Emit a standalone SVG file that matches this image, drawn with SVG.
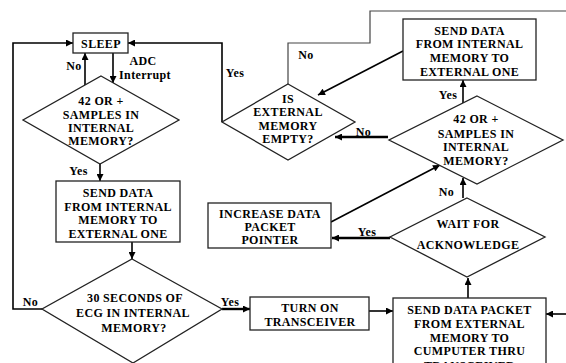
<svg xmlns="http://www.w3.org/2000/svg" width="566" height="363" viewBox="0 0 566 363">
<defs>
<marker id="ah" viewBox="0 0 10 10" refX="10" refY="5" markerWidth="8" markerHeight="7" markerUnits="userSpaceOnUse" orient="auto">
<path d="M0,0 L10,5 L0,10 z" fill="#000"/>
</marker>
</defs>
<style>
.shape{fill:#fff;stroke:#222;stroke-width:1.3}
.t{font-family:'Liberation Serif','DejaVu Serif',serif;font-weight:bold;font-size:12px;letter-spacing:0.35px;fill:#000;text-anchor:middle}
.c{fill:none;stroke:#000;stroke-width:1.6}
.thick{stroke-width:2.4}
.thin{stroke:#444;stroke-width:1.2}
.a{marker-end:url(#ah)}
</style>
<rect width="566" height="363" fill="#fff"/>

<g id="connectors">
<polyline class="c a" points="42,309 13,309 13,43 73,43"/>
<line class="c a" x1="85" y1="85" x2="85" y2="53"/>
<line class="c a" x1="113" y1="53" x2="113" y2="83"/>
<line class="c a" x1="100" y1="164" x2="100" y2="181"/>
<line class="c a" x1="132" y1="242" x2="132" y2="259"/>
<line class="c thick a" x1="222" y1="309" x2="250" y2="309"/>
<line class="c a" x1="369" y1="311" x2="393" y2="311"/>
<line class="c a" x1="566" y1="314" x2="546" y2="314"/>
<line class="c a" x1="468" y1="298" x2="468" y2="278"/>
<line class="c thick a" x1="390" y1="238" x2="332" y2="238"/>
<line class="c a" x1="331" y1="222" x2="440" y2="165"/>
<line class="c a" x1="463" y1="198" x2="463" y2="178"/>
<line class="c a" x1="463" y1="103" x2="463" y2="80"/>
<line class="c a" x1="403" y1="51" x2="318" y2="95"/>
<polyline class="c thin" points="566,11 370,11 370,43 288,43 288,84"/>
<polyline class="c a" points="222,122 222,43 128,43"/>
<line class="c thick a" x1="388" y1="137" x2="335" y2="137"/>
</g>

<g id="sleep">
<rect class="shape" x="73" y="33" width="55" height="20"/>
<text class="t" x="101" y="48">SLEEP</text>
</g>

<g id="labels">
<text class="t" x="74" y="70">No</text>
<text class="t" x="143" y="65">ADC</text>
<text class="t" x="145" y="79">Interrupt</text>
<text class="t" x="78.5" y="175">Yes</text>
<text class="t" x="30.5" y="306">No</text>
<text class="t" x="230" y="306">Yes</text>
<text class="t" x="367" y="236">Yes</text>
<text class="t" x="446.5" y="196">No</text>
<text class="t" x="448" y="99">Yes</text>
<text class="t" x="306" y="58.5">No</text>
<text class="t" x="235" y="77">Yes</text>
<text class="t" x="363.5" y="135.5">No</text>
</g>

<g id="dec1">
<polygon class="shape" points="101,76 179,120 100,164 23,120"/>
<text class="t" x="101" y="105">42 OR +</text>
<text class="t" x="101" y="118.5">SAMPLES IN</text>
<text class="t" x="101" y="132">INTERNAL</text>
<text class="t" x="101" y="145">MEMORY?</text>
</g>

<g id="send1">
<rect class="shape" x="56" y="181" width="124" height="61"/>
<text class="t" x="118" y="196.5">SEND DATA</text>
<text class="t" x="118" y="210.5">FROM INTERNAL</text>
<text class="t" x="118" y="224">MEMORY TO</text>
<text class="t" x="118" y="237.5">EXTERNAL ONE</text>
</g>

<g id="dec30">
<polygon class="shape" points="132,259 222,309 133,363 42,309"/>
<text class="t" x="135" y="302">30 SECONDS OF</text>
<text class="t" x="133" y="317">ECG IN INTERNAL</text>
<text class="t" x="134" y="331.5">MEMORY?</text>
</g>

<g id="turnon">
<rect class="shape" x="250" y="297" width="119" height="33"/>
<text class="t" x="310" y="312">TURN ON</text>
<text class="t" x="310" y="325.5">TRANSCEIVER</text>
</g>

<g id="sendpacket">
<rect class="shape" x="393" y="298" width="153" height="75"/>
<text class="t" x="469.5" y="313.5">SEND DATA PACKET</text>
<text class="t" x="469.5" y="327.5">FROM EXTERNAL</text>
<text class="t" x="469.5" y="341.5">MEMORY TO</text>
<text class="t" x="469.5" y="355">CUMPUTER THRU</text>
<text class="t" x="469.5" y="369.5">TRANSCEIVER</text>
</g>

<g id="wait">
<polygon class="shape" points="467,198 545,237 467,277 390,237"/>
<text class="t" x="468" y="227.5">WAIT FOR</text>
<text class="t" x="468" y="248.5">ACKNOWLEDGE</text>
</g>

<g id="increase">
<rect class="shape" x="208" y="203" width="123" height="45"/>
<text class="t" x="270" y="217.5">INCREASE DATA</text>
<text class="t" x="270" y="230.5">PACKET</text>
<text class="t" x="270" y="244">POINTER</text>
</g>

<g id="dec2">
<polygon class="shape" points="477,96 563,140 477,184 389,140"/>
<text class="t" x="476" y="123">42 OR +</text>
<text class="t" x="476" y="137.5">SAMPLES IN</text>
<text class="t" x="476" y="151">INTERNAL</text>
<text class="t" x="476" y="165">MEMORY?</text>
</g>

<g id="send2">
<rect class="shape" x="403" y="19" width="133" height="61"/>
<text class="t" x="469.5" y="34.5">SEND DATA</text>
<text class="t" x="469.5" y="48">FROM INTERNAL</text>
<text class="t" x="469.5" y="62">MEMORY TO</text>
<text class="t" x="469.5" y="75.5">EXTERNAL ONE</text>
</g>

<g id="isempty">
<polygon class="shape" points="288,84 355,122 288,160 222,122"/>
<text class="t" x="288" y="103">IS</text>
<text class="t" x="288" y="116">EXTERNAL</text>
<text class="t" x="288" y="129.5">MEMORY</text>
<text class="t" x="288" y="143">EMPTY?</text>
</g>
</svg>
